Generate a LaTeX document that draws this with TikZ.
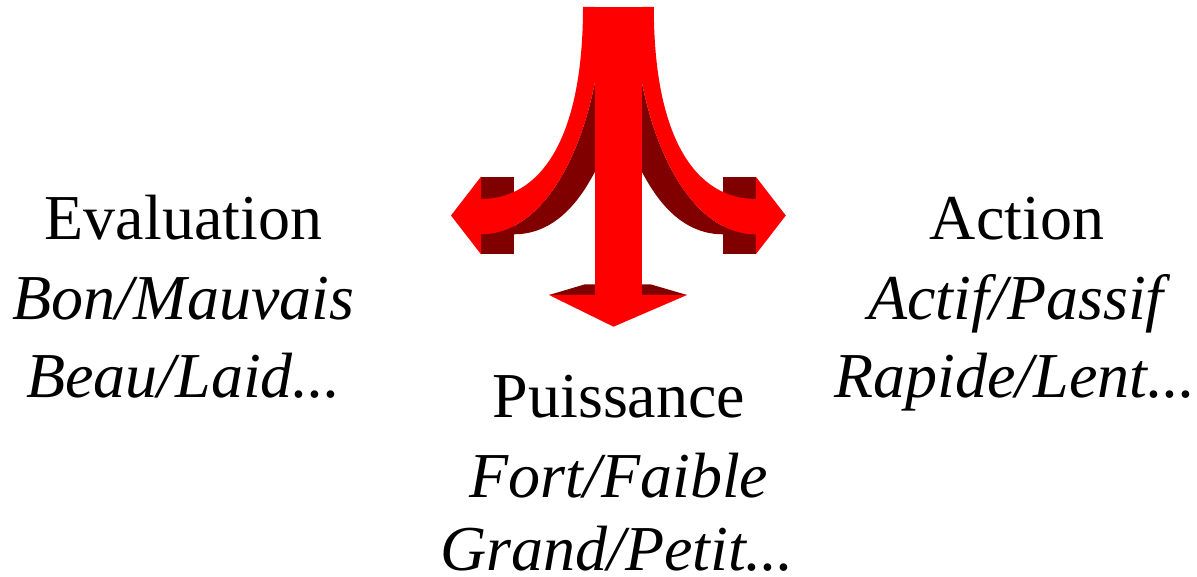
\documentclass[tikz,border=0pt]{standalone}
\usepackage{fontspec}
\setmainfont{Liberation Serif}
\definecolor{arrowred}{HTML}{FF0000}
\definecolor{arrowdark}{HTML}{800000}
\begin{document}
\begin{tikzpicture}[x=1pt,y=-1pt,
  lbl/.style={anchor=base,inner sep=0pt,font=\fontsize{64}{77}\selectfont},
  ilbl/.style={lbl,font=\fontsize{64}{77}\selectfont\itshape},
  redfill/.style={fill=arrowred,draw=none},
  darkfill/.style={fill=arrowdark,draw=none}]
\useasboundingbox (0,0) rectangle (1197,577);
% ---- dark (back) parts, left half
\newcommand{\halfdark}{%
  \fill[darkfill] (481,176.7) rectangle (513.7,254.3);
  \fill[darkfill] (595,82) -- (595,171.7) .. controls (584.2,191.7) and (560,234.3) .. (514,234.3)
     -- (481,234.3) .. controls (535,234.3) and (577,172) .. (595,82) -- cycle;}
\newcommand{\halfred}{%
  \fill[redfill] (451,215.5) -- (481,176.7) -- (481,254.3) -- cycle;
  \fill[redfill] (583,7) .. controls (583,140) and (540,199) .. (481,199)
     -- (481,234.3) .. controls (535,234.3) and (577,172) .. (595,82)
     -- (595,7) -- cycle;}
\halfdark
\begin{scope}[xshift=1236.8pt,xscale=-1]
\halfdark
\end{scope}
\fill[darkfill] (549,295) -- (585,284.3) -- (650.5,284.3) -- (687,295) -- cycle;
% ---- red parts
\halfred
\begin{scope}[xshift=1236.8pt,xscale=-1]
\halfred
\end{scope}
\fill[redfill] (549,295) -- (687,295) -- (613.5,326.7) -- cycle;
\fill[redfill] (595,7) rectangle (641.7,296);
% ---- labels
\node[lbl]  (evalA) at (183.5,240) {Evaluation};
\node[ilbl] (evalB) at (183.5,320) {Bon/Mauvais};
\node[ilbl] (evalC) at (183.5,397) {Beau/Laid...};
\node[lbl]  (puisA) at (619,417) {Puissance};
\node[ilbl] (puisB) at (619,497) {Fort/Faible};
\node[ilbl] (puisC) at (617,570) {Grand/Petit...};
\node[lbl]  (actA) at (1017,240) {Action};
\node[ilbl] (actB) at (1016,320) {Actif/Passif};
\node[ilbl] (actC) at (1015,397) {Rapide/Lent...};
\end{tikzpicture}
\end{document}
